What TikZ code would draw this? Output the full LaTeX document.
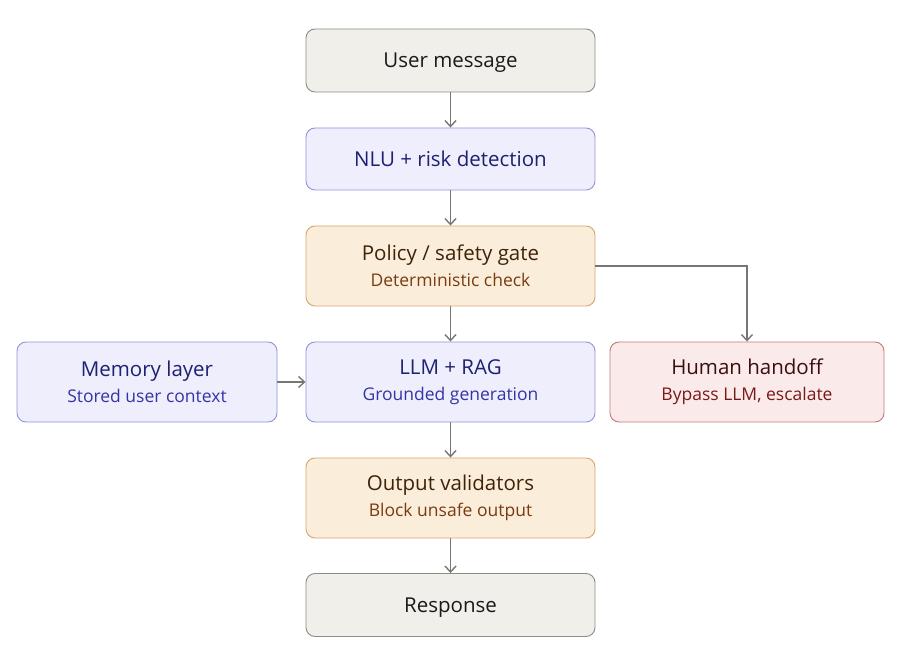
\documentclass[tikz,border=0pt]{standalone}
\usepackage{fontspec}
\setmainfont{Open Sans}
\usetikzlibrary{arrows.meta}
\definecolor{grayfill}{HTML}{F0EFEA}
\definecolor{graydraw}{HTML}{8C8C88}
\definecolor{graytext}{HTML}{1A1A1A}
\definecolor{bluefill}{HTML}{EEEEFC}
\definecolor{bluedraw}{HTML}{9393DC}
\definecolor{bluetext}{HTML}{1F1F73}
\definecolor{bluesub}{HTML}{3434A8}
\definecolor{orfill}{HTML}{FAEEDA}
\definecolor{ordraw}{HTML}{D8A570}
\definecolor{ortext}{HTML}{40220A}
\definecolor{orsub}{HTML}{7A3A12}
\definecolor{redfill}{HTML}{FAEBEA}
\definecolor{reddraw}{HTML}{C27A78}
\definecolor{redtext}{HTML}{3A0E0E}
\definecolor{redsub}{HTML}{7A1818}
\definecolor{edgecol}{HTML}{777772}
\tikzset{
  box/.style={rounded corners=9pt, line width=0.9pt, align=center, inner sep=0pt, font=\fontsize{20.5}{26}\selectfont},
  oneline/.style={text height=19pt, text depth=4pt},
  grbox/.style={box, oneline, fill=grayfill, draw=graydraw, text=graytext, minimum width=289pt, minimum height=63pt},
  blbox/.style={box, fill=bluefill, draw=bluedraw, text=bluetext},
  orbox/.style={box, fill=orfill, draw=ordraw, text=ortext, minimum width=289pt, minimum height=80pt},
  rdbox/.style={box, fill=redfill, draw=reddraw, text=redtext, minimum width=274pt, minimum height=80pt},
  conn/.style={draw=edgecol, line width=1.4pt, -{Straight Barb[length=6pt,width=11pt,line width=1.4pt]}},
}
\newcommand{\subl}[2]{\\{\fontsize{17.5}{26}\selectfont\color{#1}#2}}
\begin{document}
\begin{tikzpicture}[x=1pt,y=-1pt]
\useasboundingbox (0,0) rectangle (900,652);
\node[grbox] (user) at (450.5,60.5) {User message};
\node[blbox, oneline, minimum width=289pt, minimum height=62pt] (nlu) at (450.5,159) {NLU + risk detection};
\node[orbox] (policy) at (450.5,266) {Policy / safety gate\subl{orsub}{Deterministic check}};
\node[blbox, minimum width=289pt, minimum height=80pt] (llm) at (450.5,382) {LLM + RAG\subl{bluesub}{Grounded generation}};
\node[blbox, minimum width=260pt, minimum height=80pt] (mem) at (147,382) {Memory layer\subl{bluesub}{Stored user context}};
\node[rdbox] (human) at (747,382) {Human handoff\subl{redsub}{Bypass LLM, escalate}};
\node[orbox] (valid) at (450.5,498) {Output validators\subl{orsub}{Block unsafe output}};
\node[grbox] (resp) at (450.5,605) {Response};
\draw[conn] (user) -- (nlu);
\draw[conn] (nlu) -- (policy);
\draw[conn] (policy) -- (llm);
\draw[conn] (mem) -- (llm);
\draw[conn] (policy.east) -| (human.north);
\draw[conn] (llm) -- (valid);
\draw[conn] (valid) -- (resp);
\end{tikzpicture}
\end{document}
